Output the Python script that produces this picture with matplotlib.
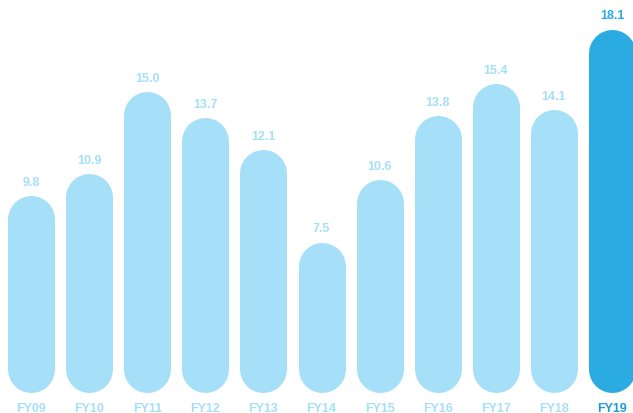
#!/usr/bin/env python

import matplotlib
matplotlib.use("Agg")
import matplotlib.pyplot as plt

years = ["FY09", "FY10", "FY11", "FY12", "FY13", "FY14",
         "FY15", "FY16", "FY17", "FY18", "FY19"]
values = [9.8, 10.9, 15.0, 13.7, 12.1, 7.5, 10.6, 13.8, 15.4, 14.1, 18.1]

LIGHT = "#a6dff8"
DARK = "#2aabe2"
DPI = 100
BAR_PX = 47


def main():
    plt.rcParams["font.family"] = ["Liberation Sans", "DejaVu Sans"]
    fig = plt.figure(figsize=(6.33, 4.14), dpi=DPI)
    ax = fig.add_axes([0, 0, 1, 1])
    ax.set_xlim(-0.534, 10.361)
    ax.set_ylim(-0.995, 19.6)
    ax.axis("off")

    # pixels per data unit in y, so the round caps end exactly at 0 and value
    px_per_unit = (ax.transData.transform((0, 1))[1]
                   - ax.transData.transform((0, 0))[1])
    r = (BAR_PX / 2) / px_per_unit
    lw = BAR_PX * 72 / DPI

    for i, (year, v) in enumerate(zip(years, values)):
        color = DARK if i == len(values) - 1 else LIGHT
        ax.plot([i, i], [r, v - r], color=color, lw=lw,
                solid_capstyle="round")
        ax.annotate(f"{v:.1f}", (i, v), xytext=(0, 10),
                    textcoords="offset points", ha="center", va="center",
                    fontsize=9, fontweight="bold", color=color)
        ax.annotate(year, (i, 0), xytext=(0, -10.6),
                    textcoords="offset points", ha="center", va="center",
                    fontsize=9, fontweight="bold",
                    color="#1f9ad6" if i == len(values) - 1 else LIGHT)

    fig.savefig("out.png", dpi=DPI)


if __name__ == "__main__":
    main()
